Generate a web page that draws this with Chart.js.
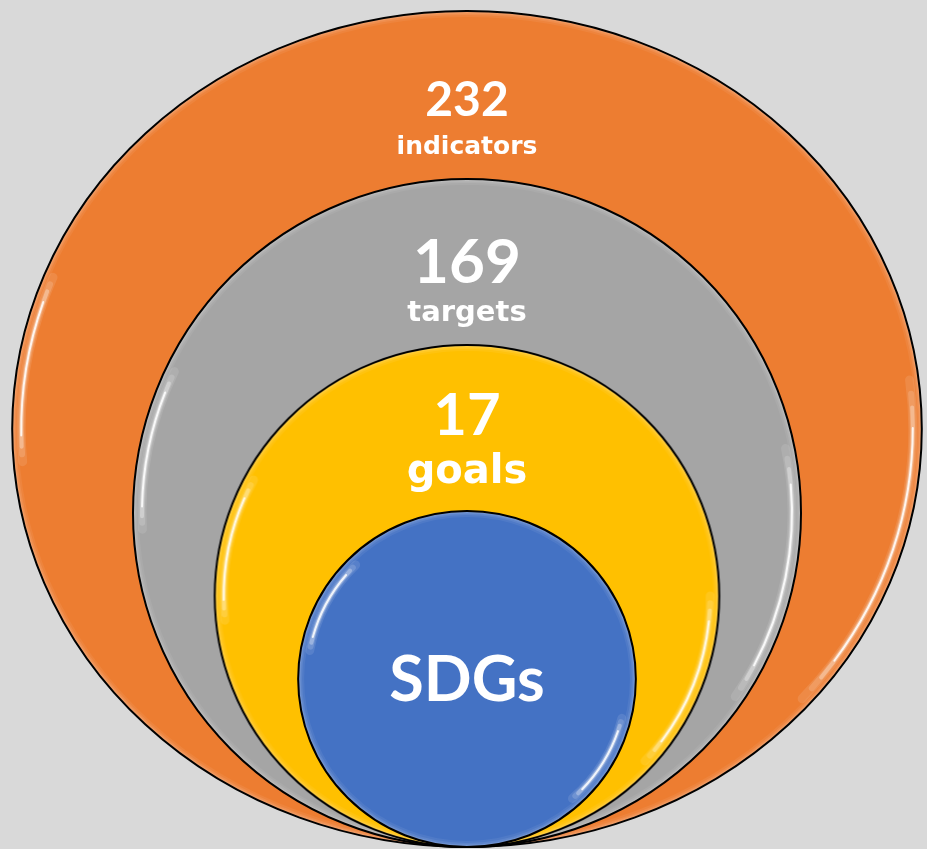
<!DOCTYPE html>
<html>
<head>
<meta charset="utf-8">
<script src="https://cdn.jsdelivr.net/npm/chart.js@4.4.1/dist/chart.umd.min.js"></script>
<style>
  html, body { margin: 0; padding: 0; background: #d9d9d9; overflow: hidden; }
  #wrap { width: 927px; height: 849px; }
</style>
</head>
<body>
<div id="wrap"><canvas id="rings" width="927" height="849"></canvas></div>
<script>
// rings, outermost first
const ringNames = ['indicators', 'targets', 'goals', 'SDGs'];
const ringCounts = ['232', '169', '17', ''];
// size of each ring (radius, chart units) - all rings sit on the baseline
const ringSize = [418, 334, 251, 168];

// look
const ringColors = ['#ED7D31', '#A5A5A5', '#FFC000', '#4472C4'];
const ringStretch = [1.088, 1, 1.005, 1.005];
const ringGlints = [
  [[Math.PI - 0.08, Math.PI + 0.38], [-0.12, 0.72]],
  [[Math.PI - 0.05, Math.PI + 0.45], [-0.2, 0.6]],
  [[Math.PI - 0.1, Math.PI + 0.5], [0.0, 0.75]],
  [[Math.PI + 0.18, Math.PI + 0.8], [0.25, 0.85]]
];
// text: [count px, name px, count baseline, name baseline] (from top of ring)
const ringText = [
  [48, 25, 105, 143],
  [62, 29, 104, 142],
  [58, 40, 90, 138],
  [0, 63, 0, 190]
];
const nameFont = ['DejaVu Sans', 'DejaVu Sans', 'DejaVu Sans', 'Lato'];

const discCache = {};

function paintDisc(rx, ry, color, glints) {
  const pad = 4;
  const c = document.createElement('canvas');
  c.width = Math.round(2 * rx + 2 * pad);
  c.height = Math.round(2 * ry + 2 * pad);
  const g = c.getContext('2d');
  const cx = c.width / 2, cy = c.height / 2;
  const arc = (ix, a0, a1) => {
    g.beginPath();
    g.ellipse(cx, cy, rx - ix, ry - ix, 0, a0, a1);
  };
  arc(0, 0, Math.PI * 2);
  g.fillStyle = color;
  g.fill();

  g.save();
  arc(0, 0, Math.PI * 2);
  g.clip();
  // soft light rim
  [[12, 0.06], [8, 0.08], [5, 0.1], [2.5, 0.12]].forEach(([w, a]) => {
    g.strokeStyle = 'rgba(255,255,255,' + a + ')';
    g.lineWidth = w;
    arc(0, 0, Math.PI * 2);
    g.stroke();
  });
  // glossy streaks
  g.lineCap = 'round';
  glints.forEach(([a0, a1]) => {
    const span = a1 - a0;
    [[9, 0.1, 0], [6, 0.15, 0.04], [4, 0.3, 0.08], [2, 0.85, 0.14]].forEach(([w, a, k]) => {
      g.strokeStyle = 'rgba(255,255,255,' + a + ')';
      g.lineWidth = w;
      arc(9, a0 + span * k, a1 - span * k);
      g.stroke();
    });
  });
  g.restore();

  arc(0, 0, Math.PI * 2);
  g.lineWidth = 2;
  g.strokeStyle = '#000';
  g.stroke();
  return c;
}

function unitPx(chart) {
  const y = chart.scales.y;
  if (!y || !y.height) return 1;
  return Math.abs(y.getPixelForValue(0) - y.getPixelForValue(1));
}

const ringLabels = {
  id: 'ringLabels',
  afterDatasetsDraw(chart) {
    const ctx = chart.ctx;
    const meta = chart.getDatasetMeta(0);
    const ppu = unitPx(chart);
    ctx.save();
    ctx.fillStyle = '#fff';
    ctx.textAlign = 'center';
    ctx.textBaseline = 'alphabetic';
    meta.data.forEach((pt, i) => {
      const top = pt.y - ringSize[i] * ppu;
      const [cSize, nSize, cOff, nOff] = ringText[i];
      if (ringCounts[i]) {
        ctx.font = 'bold ' + cSize + 'px Lato';
        ctx.fillText(ringCounts[i], pt.x, top + cOff);
      }
      ctx.font = 'bold ' + nSize + 'px "' + nameFont[i] + '"';
      ctx.fillText(ringNames[i], pt.x, top + nOff);
    });
    ctx.restore();
  }
};

new Chart(document.getElementById('rings'), {
  type: 'scatter',
  data: {
    datasets: [{
      data: ringSize.map(r => ({ x: 0, y: r })),
      clip: false,
      pointRadius: 1,
      pointHitRadius: 0,
      pointStyle: (c) => {
        if (c.type !== 'data') return 'circle';
        const i = c.dataIndex;
        const ppu = unitPx(c.chart);
        const ry = ringSize[i] * ppu;
        const rx = ry * ringStretch[i];
        const key = i + ':' + Math.round(rx) + ':' + Math.round(ry);
        if (!discCache[key]) discCache[key] = paintDisc(rx, ry, ringColors[i], ringGlints[i]);
        return discCache[key];
      }
    }]
  },
  options: {
    responsive: false,
    devicePixelRatio: 1,
    animation: false,
    events: [],
    layout: { padding: 0, autoPadding: false },
    plugins: { legend: { display: false }, tooltip: { enabled: false } },
    scales: {
      x: { type: 'linear', min: -467, max: 460, display: false },
      y: { type: 'linear', min: -2, max: 847, display: false }
    }
  },
  plugins: [ringLabels]
});
</script>
</body>
</html>
